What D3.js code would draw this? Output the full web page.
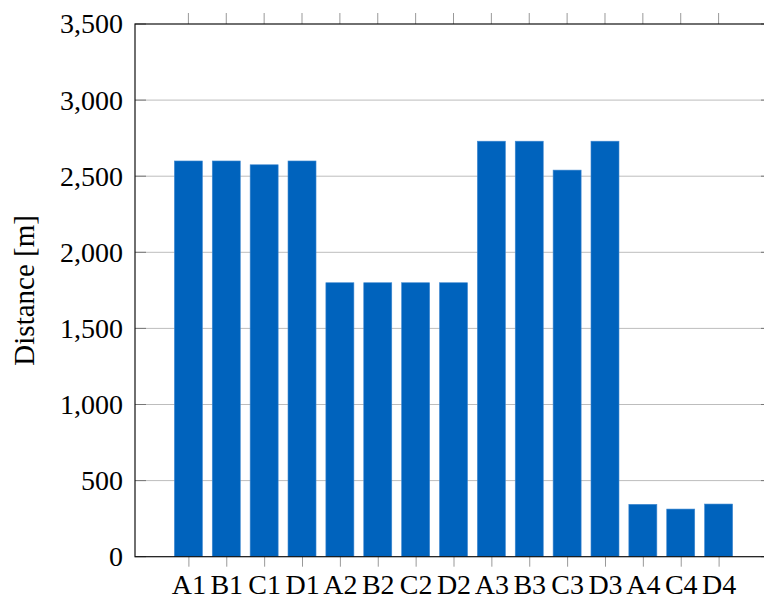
<!DOCTYPE html>
<html>
<head>
<meta charset="utf-8">
<script src="https://cdn.jsdelivr.net/npm/d3@7"></script>
<style>
  body { margin: 0; background: #fff; }
  svg text { font-family: "Liberation Serif", "DejaVu Serif", serif; fill: #000; }
</style>
</head>
<body>
<script>
// categories and distances
const categories = ["A1", "B1", "C1", "D1", "A2", "B2", "C2", "D2", "A3", "B3", "C3", "D3", "A4", "C4", "D4"];
const distances = [2600, 2600, 2575, 2600, 1800, 1800, 1800, 1800, 2730, 2730, 2540, 2730, 344, 313, 346];
const yTicks = [0, 500, 1000, 1500, 2000, 2500, 3000, 3500];

const width = 764, height = 604;
const margin = {top: 24, right: -8, bottom: 47.3, left: 135};

const svg = d3.select('body')
    .append('svg')
    .attr('width', width)
    .attr('height', height);

const x = d3.scalePoint()
    .domain(categories)
    .range([margin.left, width - margin.right])
    .padding(1.41);

const y = d3.scaleLinear()
    .domain([0, 3500])
    .range([height - margin.bottom, margin.top]);

const fmt = d3.format(",");

// grid lines
svg.append('g')
    .selectAll('line')
    .data(yTicks.slice(1, -1))
    .enter().append('line')
    .attr('x1', margin.left).attr('x2', width - margin.right)
    .attr('y1', d => y(d)).attr('y2', d => y(d))
    .attr('stroke', '#bdbdbd').attr('stroke-width', 1);

// bars
const barW = 28;
svg.append('g')
    .selectAll('rect')
    .data(distances)
    .enter().append('rect')
    .attr('x', (d, i) => x(categories[i]) - barW / 2)
    .attr('y', d => y(d))
    .attr('width', barW)
    .attr('height', d => y(0) - y(d))
    .attr('fill', '#0063bd')
    .attr('stroke', '#3f88d0')
    .attr('stroke-width', 0.6);

// left axis
const yAxis = svg.append('g')
    .attr('transform', `translate(${margin.left},0)`)
    .call(d3.axisLeft(y).tickValues(yTicks).tickFormat(fmt).tickSize(0).tickPadding(12));
yAxis.select('.domain').remove();
yAxis.selectAll('text').style('font-size', '28px');

// inner y ticks, left and right
svg.append('g').selectAll('line')
    .data(yTicks)
    .enter().append('line')
    .attr('x1', margin.left).attr('x2', margin.left + 11)
    .attr('y1', d => y(d)).attr('y2', d => y(d))
    .attr('stroke', '#777').attr('stroke-width', 1);
svg.append('g').selectAll('line')
    .data(yTicks)
    .enter().append('line')
    .attr('x1', width - margin.right).attr('x2', width - margin.right - 11)
    .attr('y1', d => y(d)).attr('y2', d => y(d))
    .attr('stroke', '#777').attr('stroke-width', 1);

// bottom axis
const xAxis = svg.append('g')
    .attr('transform', `translate(0,${y(0)})`)
    .call(d3.axisBottom(x).tickSize(10).tickPadding(7).tickSizeOuter(0));
xAxis.select('.domain').remove();
xAxis.selectAll('.tick line').attr('stroke', '#999');
xAxis.selectAll('text').style('font-size', '28px');

// top ticks
svg.append('g').selectAll('line')
    .data(categories)
    .enter().append('line')
    .attr('x1', d => x(d)).attr('x2', d => x(d))
    .attr('y1', margin.top).attr('y2', margin.top - 11)
    .attr('stroke', '#999').attr('stroke-width', 1);

// frame
svg.append('rect')
    .attr('x', margin.left).attr('y', margin.top)
    .attr('width', width - margin.right - margin.left)
    .attr('height', y(0) - margin.top)
    .attr('fill', 'none')
    .attr('stroke', '#111').attr('stroke-width', 1.2);

// y label
svg.append('text')
    .attr('transform', `translate(34,${(margin.top + y(0)) / 2}) rotate(-90)`)
    .attr('text-anchor', 'middle')
    .style('font-size', '29px')
    .text('Distance [m]');
</script>
</body>
</html>
